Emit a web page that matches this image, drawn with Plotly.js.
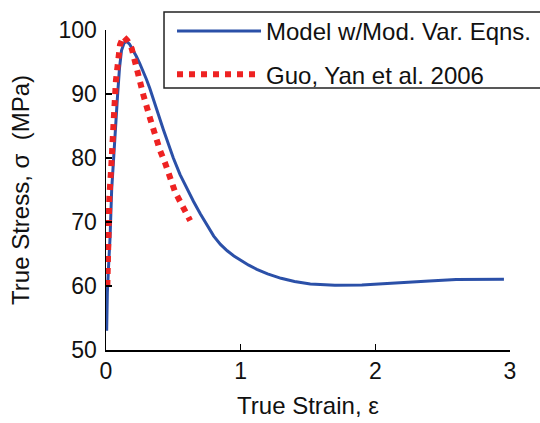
<!DOCTYPE html>
<html>
<head>
<meta charset="utf-8">
<script src="https://cdn.plot.ly/plotly-3.0.1.min.js"></script>
<style>
  html, body { margin: 0; padding: 0; background: #fff; }
  #chart { width: 540px; height: 423px; }
</style>
</head>
<body>
<div id="chart"></div>
<script>
// Model prediction with modified variable equations
const modelStrain = [0.005, 0.01, 0.02, 0.03, 0.042, 0.055, 0.07, 0.085, 0.1, 0.115, 0.135, 0.155,
  0.175, 0.2, 0.225, 0.25, 0.275, 0.3, 0.325, 0.35, 0.375, 0.4, 0.425, 0.45, 0.475, 0.5, 0.55,
  0.6, 0.65, 0.7, 0.75, 0.8, 0.85, 0.9, 0.95, 1.0, 1.06, 1.12, 1.2, 1.3, 1.4, 1.517, 1.7,
  1.9, 2.0, 2.2, 2.4, 2.6, 2.8, 2.955];
const modelStress = [53, 59, 63.5, 67.5, 75, 80, 84.5, 89.5, 94, 96.8, 98, 98.2,
  97.8, 96.9, 95.9, 94.8, 93.6, 92.3, 90.9, 89.4, 87.8, 86.1, 84.5, 82.9, 81.4, 80.0, 77.4,
  75.2, 73.2, 71.3, 69.5, 67.8, 66.5, 65.5, 64.7, 64.0, 63.25, 62.6, 61.9, 61.2, 60.7, 60.3, 60.12,
  60.15, 60.3, 60.6, 60.8, 61.0, 61.05, 61.05];

// Experimental data, Guo, Yan et al. 2006
const expStrain = [0.01, 0.017, 0.025, 0.04, 0.05, 0.06, 0.074, 0.09, 0.104, 0.129, 0.16,
  0.191, 0.205, 0.228, 0.278, 0.327, 0.352, 0.4, 0.439, 0.476, 0.513, 0.563, 0.612, 0.625];
const expStress = [60, 67.2, 74, 79, 81.8, 87, 92.2, 96.4, 97.7, 99, 98.3,
  97.1, 95.8, 93.5, 89.8, 86.2, 84.2, 81.25, 79.2, 76.8, 74.7, 72.7, 70.6, 70.2];

const seriesNames = ['Model w/Mod. Var. Eqns.', 'Guo, Yan et al. 2006'];
const xTicks = [0, 1, 2, 3];
const yTicks = [50, 60, 70, 80, 90, 100];

const font = 'Arial, "Liberation Sans", sans-serif';

const traces = [
  {
    x: modelStrain, y: modelStress, name: seriesNames[0],
    type: 'scatter', mode: 'lines', legendgroup: 'a',
    line: { color: '#2b50a8', width: 3 }
  },
  {
    x: expStrain, y: expStress, name: seriesNames[1],
    type: 'scatter', mode: 'lines', legendgroup: 'b',
    line: { color: '#ee2222', width: 6, dash: 'dot' }
  }
];

const axisCommon = {
  showline: true, linecolor: '#000', linewidth: 1.5,
  ticks: 'inside', ticklen: 6, tickwidth: 1.5, tickcolor: '#000',
  showgrid: false, zeroline: false, mirror: false,
  tickfont: { family: font, size: 23, color: '#111' }
};

const layout = {
  width: 540, height: 423,
  margin: { l: 106, r: 30, t: 30, b: 73, autoexpand: false },
  paper_bgcolor: '#fff', plot_bgcolor: '#fff',
  showlegend: true,
  xaxis: Object.assign({}, axisCommon, {
    range: [0, 3], tickvals: xTicks, ticktext: xTicks.map(String),
    title: { text: 'True Strain, ε', font: { family: font, size: 24, color: '#111' }, standoff: 14 }
  }),
  yaxis: Object.assign({}, axisCommon, {
    range: [50, 100], tickvals: yTicks, ticktext: yTicks.map(String),
    ticklabelstandoff: 3,
    title: { text: 'True Stress, σ  (MPa)', font: { family: font, size: 24, color: '#111' }, standoff: 22 }
  }),
  // legend frame
  shapes: [{
    type: 'rect', xref: 'paper', yref: 'paper', layer: 'above',
    x0: 0.1436, x1: 1.0866, y0: 0.81875, y1: 1.05625,
    line: { color: '#222', width: 1.5 }, fillcolor: '#fff'
  }],
  legend: {
    x: 0.1634, y: 1.0656, xanchor: 'left', yanchor: 'top',
    bgcolor: 'rgba(0,0,0,0)', borderwidth: 0,
    font: { family: font, size: 24, color: '#111' },
    itemwidth: 84, traceorder: 'grouped', tracegroupgap: 9
  }
};

Plotly.newPlot('chart', traces, layout, { displayModeBar: false, staticPlot: true });
</script>
</body>
</html>
